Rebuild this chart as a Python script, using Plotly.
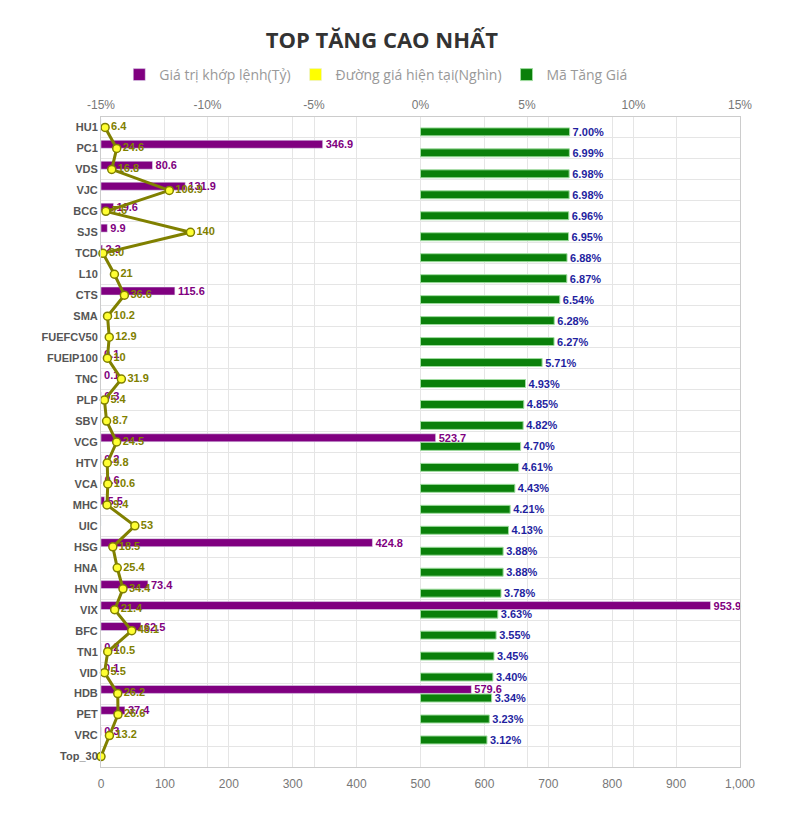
import plotly.graph_objects as go

# ---- data ----
symbols = ["HU1", "PC1", "VDS", "VJC", "BCG", "SJS", "TCD", "L10", "CTS", "SMA",
           "FUEFCV50", "FUEIP100", "TNC", "PLP", "SBV", "VCG", "HTV", "VCA", "MHC", "UIC",
           "HSG", "HNA", "HVN", "VIX", "BFC", "TN1", "VID", "HDB", "PET", "VRC", "Top_30"]

trade_value = [0.0, 346.9, 80.6, 131.9, 19.6, 9.9, 2.3, 0.0, 115.6, 0.0,
               0.0, 0.1, 0.1, 0.3, 0.0, 523.7, 0.2, 0.6, 5.5, 0.0,
               424.8, 0.0, 73.4, 953.9, 62.5, 0.2, 0.1, 579.6, 37.4, 0.3, None]

price = [6.4, 24.6, 16.8, 106.9, 7.6, 140, 3.0, 21, 36.6, 10.2,
         12.9, 10, 31.9, 5.4, 8.7, 24.5, 9.8, 10.6, 9.4, 53,
         18.5, 25.4, 34.4, 21.4, 48.1, 10.5, 5.5, 26.2, 26.6, 13.2, 0]

pct_change = [7.00, 6.99, 6.98, 6.98, 6.96, 6.95, 6.88, 6.87, 6.54, 6.28,
              6.27, 5.71, 4.93, 4.85, 4.82, 4.70, 4.61, 4.43, 4.21, 4.13,
              3.88, 3.88, 3.78, 3.63, 3.55, 3.45, 3.40, 3.34, 3.23, 3.12, None]

top_ticks = [-15, -10, -5, 0, 5, 10, 15]
top_tick_labels = ["-15%", "-10%", "-5%", "0%", "5%", "10%", "15%"]
bottom_ticks = [0, 100, 200, 300, 400, 500, 600, 700, 800, 900, 1000]

names = ["Giá trị khớp lệnh(Tỷ)", "Đường giá hiện tại(Nghìn)", "Mã Tăng Giá"]

# ---- label texts ----
value_text = ["" if (v is None or v == 0) else f"{v:.1f}" for v in trade_value]
price_text = ["" if (v is None or v == 0) else (f"{v:d}" if isinstance(v, int) else f"{v:.1f}")
              for v in price]
pct_text = ["" if v is None else f"{v:.2f}%" for v in pct_change]

PURPLE = "#800080"
OLIVE = "#808000"
GREEN = "#0a800a"
BLUE = "#1f1f9f"
LBL_FONT = "Liberation Sans"

fig = go.Figure()

fig.add_trace(go.Bar(
    y=symbols, x=trade_value, orientation="h", name=names[0],
    marker=dict(color=PURPLE), offset=-0.39, width=0.38,
    text=value_text, textposition="outside", cliponaxis=False, constraintext="none",
    textfont=dict(color=PURPLE, size=11, family=LBL_FONT, weight="bold"),
    xaxis="x", yaxis="y", showlegend=True, legendrank=1,
))

fig.add_trace(go.Scatter(
    y=symbols, x=price, mode="lines+markers+text", name=names[1],
    line=dict(color=OLIVE, width=3),
    marker=dict(color="#ffff33", size=8, line=dict(color=OLIVE, width=1.5)),
    text=price_text, textposition="middle right", cliponaxis=False,
    textfont=dict(color=OLIVE, size=11, family=LBL_FONT, weight="bold"),
    xaxis="x", yaxis="y", showlegend=False,
))

# legend-only entry with a square swatch for the price line
fig.add_trace(go.Bar(
    y=[None], x=[None], orientation="h", name=names[1],
    marker=dict(color="#ffff00"), xaxis="x", yaxis="y",
    showlegend=True, legendrank=2, hoverinfo="skip",
))

fig.add_trace(go.Bar(
    y=symbols, x=pct_change, orientation="h", name=names[2],
    marker=dict(color=GREEN, line=dict(color="#9fdc9f", width=1)), offset=0.02, width=0.38,
    text=pct_text, textposition="outside", cliponaxis=False, constraintext="none",
    textfont=dict(color=BLUE, size=11, family=LBL_FONT, weight="bold"),
    xaxis="x2", yaxis="y", showlegend=True, legendrank=3,
))

grid = "#e5e5e5"
n = len(symbols)
fig.update_layout(
    width=792, height=824,
    paper_bgcolor="white", plot_bgcolor="white",
    margin=dict(l=93, r=60, t=109, b=65, autoexpand=False),
    barmode="overlay",
    title=dict(text="<b>TOP TĂNG CAO NHẤT</b>", xref="container", x=0.472, xanchor="center",
               yref="container", y=1 - 32 / 824, yanchor="middle",
               font=dict(family="Open Sans", size=22, color="#333333")),
    legend=dict(orientation="h", xref="container", x=0.465, xanchor="center",
                yref="container", y=1 - 67 / 824, yanchor="middle",
                font=dict(family="Open Sans", size=14, color="#999999"),
                itemwidth=30, traceorder="normal"),
    xaxis=dict(range=[0, 1000], tickvals=bottom_ticks, tickformat=",", side="bottom",
               showgrid=True, gridcolor=grid, zeroline=False,
               showline=True, linecolor="#cccccc", linewidth=1,
               tickfont=dict(family=LBL_FONT, size=12, color="#777777"),
               ticks="outside", ticklen=6, tickcolor="rgba(0,0,0,0)"),
    xaxis2=dict(range=[-15, 15], tickvals=top_ticks, ticktext=top_tick_labels,
                overlaying="x", side="top", anchor="y",
                showgrid=True, gridcolor=grid, zeroline=False,
                showline=True, linecolor="#cccccc", linewidth=1,
                tickfont=dict(family=LBL_FONT, size=12, color="#777777"),
                ticks="outside", ticklen=2, tickcolor="rgba(0,0,0,0)"),
    yaxis=dict(categoryorder="array", categoryarray=symbols, range=[n - 0.5, -0.5],
               tickson="boundaries", showgrid=True, gridcolor=grid,
               showline=True, linecolor="#cccccc", mirror=True,
               ticks="outside", ticklen=6, tickcolor="rgba(0,0,0,0)",
               tickfont=dict(family=LBL_FONT, size=11, color="#555555", weight="bold")),
)

fig.write_html("out.html")
